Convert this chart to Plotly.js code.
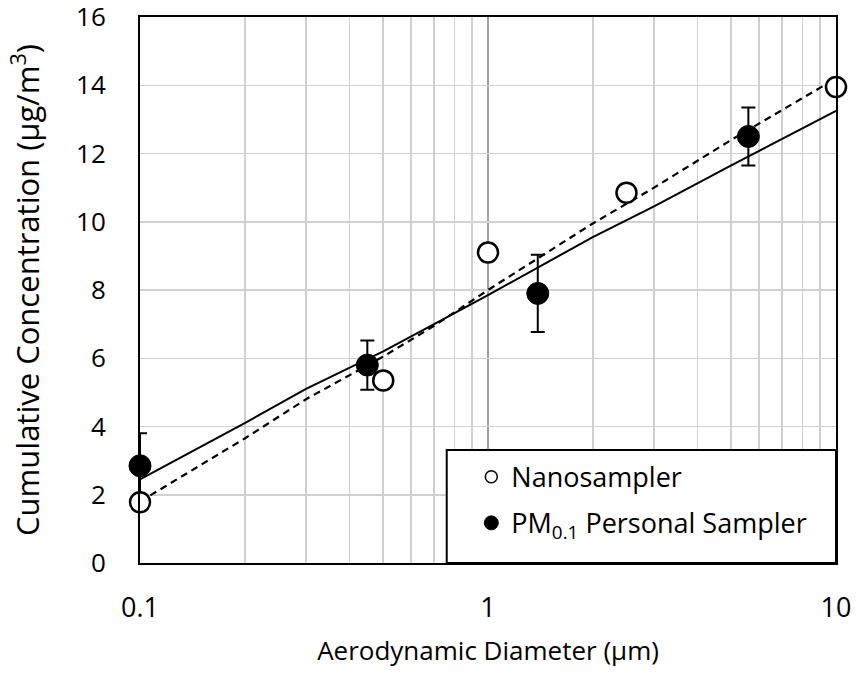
<!DOCTYPE html>
<html>
<head>
<meta charset="utf-8">
<script src="https://cdn.plot.ly/plotly-3.0.1.min.js"></script>
<style>html,body{margin:0;padding:0;background:#fff;}#chart{width:856px;height:682px;}</style>
</head>
<body>
<div id="chart"></div>
<script>
// Nanosampler (open circles)
const nanoX = [0.1, 0.5, 1.0, 2.5, 10];
const nanoY = [1.78, 5.35, 9.1, 10.85, 13.95];
// PM0.1 Personal Sampler (filled circles) with error bars
const pmX = [0.1, 0.45, 1.39, 5.6];
const pmY = [2.85, 5.8, 7.9, 12.5];
const pmErr = [0.95, 0.72, 1.13, 0.85];
// Fit curves
const fitX = [0.1, 0.2, 0.3, 0.5, 0.7, 1, 2, 3, 5, 10];
const solidY = [2.45, 4.1, 5.1, 6.2, 7.0, 7.85, 9.55, 10.45, 11.65, 13.25];
const dashedY = [1.8, 3.65, 4.8, 6.05, 6.95, 8.0, 9.95, 11.0, 12.4, 14.2];
// Axis ticks
const xTickVals = [0.1, 1, 10];
const xTickText = ['0.1', '1', '10'];
const xMinorVals = [0.2,0.3,0.4,0.5,0.6,0.7,0.8,0.9,2,3,4,5,6,7,8,9];
const yTickVals = [0, 2, 4, 6, 8, 10, 12, 14, 16];
const yTickText = ['0', '2', '4', '6', '8', '10', '12', '14', '16'];

const FONT = '"Open Sans", "Noto Sans", sans-serif';

const traces = [
  {x: fitX, y: solidY, mode: 'lines', line: {color: '#000', width: 2}, showlegend: false, hoverinfo: 'skip'},
  {x: fitX, y: dashedY, mode: 'lines', line: {color: '#000', width: 2.2, dash: '7px,5px'}, showlegend: false, hoverinfo: 'skip'},
  {x: pmX, y: pmY, mode: 'markers', cliponaxis: false,
   marker: {symbol: 'circle', size: 22, color: '#000', line: {color: '#000', width: 1}},
   error_y: {type: 'data', array: pmErr, visible: true, color: '#000', thickness: 2, width: 7},
   showlegend: false},
  {x: nanoX, y: nanoY, mode: 'markers', cliponaxis: false,
   marker: {symbol: 'circle', size: 20, color: '#fff', line: {color: '#000', width: 2.5}},
   showlegend: false},
  // legend entries
  {x: [null], y: [null], mode: 'markers', name: 'Nanosampler', legendgroup: 'a',
   marker: {symbol: 'circle', size: 12, color: '#fff', line: {color: '#000', width: 1.5}}},
  {x: [null], y: [null], mode: 'markers', name: 'PM<sub>0.1</sub> Personal Sampler', legendgroup: 'b',
   marker: {symbol: 'circle', size: 14, color: '#000', line: {color: '#000', width: 1}}}
];

const layout = {
  width: 856, height: 682,
  margin: {l: 140, r: 20, t: 17, b: 119},
  paper_bgcolor: '#fff', plot_bgcolor: '#fff',
  font: {family: FONT, color: '#000', size: 27},
  showlegend: true,
  legend: {
    x: 0.476, xanchor: 'left', y: 0.202, yanchor: 'top',
    bgcolor: 'rgba(0,0,0,0)', borderwidth: 0,
    font: {family: FONT, size: 27, color: '#000'},
    tracegroupgap: 8, traceorder: 'grouped'
  },
  xaxis: {
    type: 'log', range: [-1, 1],
    tickmode: 'array', tickvals: xTickVals, ticktext: xTickText,
    showgrid: true, gridcolor: '#a0a0a0', gridwidth: 1.5,
    minor: {tickmode: 'array', tickvals: xMinorVals, showgrid: true, gridcolor: '#d0d0d0', gridwidth: 1.5, ticks: ''},
    showline: true, linecolor: '#000', linewidth: 2, mirror: true,
    ticks: '', ticklabelstandoff: 20, ticklabeloverflow: 'allow',
    tickfont: {family: FONT, size: 27},
    title: {text: 'Aerodynamic Diameter (μm)', font: {family: FONT, size: 26}, standoff: 17},
    zeroline: false
  },
  yaxis: {
    range: [0, 16.001], tickmode: 'array', tickvals: yTickVals, ticktext: yTickText,
    showgrid: true, gridcolor: '#d0d0d0', gridwidth: 1.5,
    showline: true, linecolor: '#000', linewidth: 2, mirror: true,
    ticks: '', ticklabelstandoff: 27, ticklabeloverflow: 'allow',
    tickfont: {family: FONT, size: 26},
    title: {text: 'Cumulative Concentration (μg/m<sup>3</sup>)', font: {family: FONT, size: 31}, standoff: 27},
    zeroline: false
  },
  shapes: [
    {type: 'rect', xref: 'paper', yref: 'paper', x0: 0.4407, x1: 1, y0: 0, y1: 0.207,
     fillcolor: '#fff', line: {color: '#000', width: 2}, layer: 'above'}
  ]
};

Plotly.newPlot('chart', traces, layout, {displayModeBar: false, staticPlot: true});
</script>
</body>
</html>
